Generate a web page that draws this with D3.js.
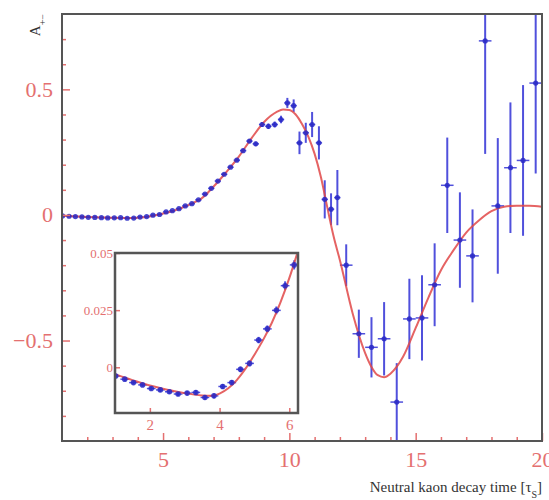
<!DOCTYPE html>
<html>
<head>
<meta charset="utf-8">
<script src="https://cdn.jsdelivr.net/npm/d3@7"></script>
<style>
  html, body { margin: 0; padding: 0; background: #fff; }
  svg { display: block; }
  svg text { font-family: "Liberation Serif", "Times New Roman", "DejaVu Serif", serif !important; }
</style>
</head>
<body>
<svg id="chart" width="549" height="500"></svg>
<script>
// measured asymmetry vs decay time (units of tau_S)
var decayTime = [
  1.02, 1.28, 1.53, 1.79, 2.04, 2.30, 2.56, 2.81, 3.07, 3.32, 3.58, 3.84, 4.09, 4.35, 4.60, 4.86, 5.12, 5.37, 5.63, 5.88, 6.14,
  6.40, 6.66, 6.91, 7.17, 7.42, 7.67, 7.92, 8.17, 8.42, 8.67, 8.92, 9.17, 9.42, 9.67, 9.92,
  10.17, 10.40, 10.65, 10.90, 11.17, 11.40, 11.65, 11.90,
  12.25, 12.75, 13.25, 13.75, 14.25, 14.75, 15.25, 15.75, 16.25, 16.75, 17.25, 17.75, 18.25, 18.75, 19.25, 19.75
];
var asymmetry = [
  -0.0038, -0.0052, -0.0067, -0.0077, -0.0093, -0.0099, -0.0107, -0.0117, -0.0113, -0.0110, -0.0132, -0.0125, -0.0084, -0.0067, -0.0009, 0.0017, 0.0119, 0.0168, 0.0249, 0.0357, 0.0448,
  0.060, 0.083, 0.106, 0.135, 0.162, 0.190, 0.218, 0.256, 0.294, 0.283, 0.360, 0.353, 0.360, 0.380, 0.446,
  0.435, 0.287, 0.327, 0.360, 0.287, 0.062, 0.023, 0.069,
  -0.200, -0.473, -0.527, -0.493, -0.745, -0.414, -0.410, -0.278, 0.118, -0.100, -0.163, 0.693, 0.036, 0.188, 0.217, 0.525
];
var asymErr = [
  0.0008, 0.0008, 0.0008, 0.0008, 0.0008, 0.0009, 0.0009, 0.0009, 0.0009, 0.001, 0.001, 0.001, 0.0011, 0.0011, 0.0012, 0.0013, 0.0014, 0.0015, 0.0017, 0.0019, 0.002,
  0.003, 0.003, 0.004, 0.004, 0.005, 0.005, 0.006, 0.007, 0.008, 0.009, 0.010, 0.011, 0.012, 0.015, 0.020,
  0.025, 0.045, 0.040, 0.050, 0.066, 0.076, 0.063, 0.110,
  0.083, 0.096, 0.120, 0.146, 0.155, 0.160, 0.170, 0.165, 0.190, 0.190, 0.185, 0.450, 0.270, 0.260, 0.300, 0.360
];
var binHalfWidth = [
  0.125, 0.125, 0.125, 0.125, 0.125, 0.125, 0.125, 0.125, 0.125, 0.125, 0.125, 0.125, 0.125, 0.125, 0.125, 0.125, 0.125, 0.125, 0.125, 0.125, 0.125,
  0.125, 0.125, 0.125, 0.125, 0.125, 0.125, 0.125, 0.125, 0.125, 0.125, 0.125, 0.125, 0.125, 0.125, 0.125,
  0.125, 0.125, 0.125, 0.125, 0.125, 0.125, 0.125, 0.125,
  0.25, 0.25, 0.25, 0.25, 0.25, 0.25, 0.25, 0.25, 0.25, 0.25, 0.25, 0.25, 0.25, 0.25, 0.25, 0.25
];

// fitted curve
var fitTime = [1, 1.5, 2, 2.5, 3, 3.5, 3.75, 4, 4.25, 4.5, 4.75, 5, 5.25, 5.5, 5.75, 6, 6.25, 6.5, 7, 7.5, 8, 8.5, 9, 9.5, 9.75, 10,
  10.25, 10.5, 10.75, 11, 11.25, 11.5, 11.75, 12, 12.5, 13, 13.25, 13.5, 13.75, 14, 14.5, 15, 15.5, 16, 16.5, 17, 17.5, 18, 18.5, 19, 19.5, 20];
var fitValue = [-0.003, -0.0056, -0.008, -0.0098, -0.0113, -0.0123, -0.0125, -0.0115, -0.0092, -0.0055, -0.0005, 0.0055, 0.012, 0.0195, 0.0285, 0.039, 0.051, 0.064, 0.113, 0.170, 0.232, 0.305, 0.370, 0.410, 0.420, 0.418,
  0.400, 0.362, 0.312, 0.243, 0.150, 0.031, -0.085, -0.180, -0.390, -0.550, -0.605, -0.638, -0.646, -0.632, -0.565, -0.450, -0.330, -0.220, -0.140, -0.070, -0.022, 0.015, 0.033, 0.037, 0.037, 0.033];

var xTicks = [5, 10, 15, 20];
var yTicks = [-0.5, 0, 0.5];
var insetXTicks = [2, 4, 6];
var insetYTicks = [0, 0.025, 0.05];

var tickColor = '#e47070';
var barColor = '#5050dc';
var dotColor = '#2828c4';
var fitColor = '#e04848';

var points = decayTime.map(function (t, i) {
  return { t: t, a: asymmetry[i], e: asymErr[i], w: binHalfWidth[i] };
});
var fit = fitTime.map(function (t, i) { return { t: t, a: fitValue[i] }; });

var svg = d3.select('#chart');

function drawPanel(g, x, y, data, fitData, clipId, dotR) {
  var x0 = x.range()[0], x1 = x.range()[1];
  var y0 = y.range()[1], y1 = y.range()[0];

  svg.append('clipPath').attr('id', clipId)
    .append('rect').attr('x', x0).attr('y', y0).attr('width', x1 - x0).attr('height', y1 - y0);

  var plot = g.append('g').attr('clip-path', 'url(#' + clipId + ')');

  plot.selectAll('line.ey').data(data).enter().append('line')
    .attr('class', 'ey')
    .attr('x1', function (d) { return x(d.t); }).attr('x2', function (d) { return x(d.t); })
    .attr('y1', function (d) { return y(d.a - d.e); }).attr('y2', function (d) { return y(d.a + d.e); })
    .attr('stroke', barColor).attr('stroke-width', 2);

  plot.selectAll('line.ex').data(data).enter().append('line')
    .attr('class', 'ex')
    .attr('x1', function (d) { return x(d.t - d.w); }).attr('x2', function (d) { return x(d.t + d.w); })
    .attr('y1', function (d) { return y(d.a); }).attr('y2', function (d) { return y(d.a); })
    .attr('stroke', barColor).attr('stroke-width', 1.5);

  var line = d3.line()
    .x(function (d) { return x(d.t); })
    .y(function (d) { return y(d.a); })
    .curve(d3.curveMonotoneX);

  plot.append('path').datum(fitData)
    .attr('d', line)
    .attr('fill', 'none')
    .attr('stroke', fitColor)
    .attr('stroke-opacity', 0.85)
    .attr('stroke-width', 2);

  plot.selectAll('circle').data(data).enter().append('circle')
    .attr('cx', function (d) { return x(d.t); })
    .attr('cy', function (d) { return y(d.a); })
    .attr('r', dotR)
    .attr('fill', dotColor)
    .attr('fill-opacity', 0.85);
}

function styleAxis(sel, fontSize) {
  sel.attr('font-family', null);
  sel.select('.domain').remove();
  sel.selectAll('line').attr('stroke', tickColor).attr('stroke-width', 1.5);
  sel.selectAll('text').attr('fill', tickColor).style('font-size', fontSize + 'px');
}

// ---- main panel
var x = d3.scaleLinear().domain([1, 20]).range([62, 542]);
var y = d3.scaleLinear().domain([-0.9, 0.8]).range([441, 14]);

var main = svg.append('g');
main.append('rect').attr('x', 62).attr('y', 14).attr('width', 480).attr('height', 427)
  .attr('fill', '#fff');

drawPanel(main, x, y, points, fit, 'clip-main', 2.6);

main.append('g').attr('transform', 'translate(0,441)')
  .call(d3.axisBottom(x).tickValues(d3.range(2, 20).filter(function (v) { return v % 5; }))
    .tickSize(-4).tickFormat(''))
  .call(styleAxis, 22);
main.append('g').attr('transform', 'translate(0,441)')
  .call(d3.axisBottom(x).tickValues(xTicks).tickSize(-8).tickPadding(10).tickFormat(d3.format('d')))
  .call(styleAxis, 22);

main.append('g').attr('transform', 'translate(62,0)')
  .call(d3.axisLeft(y).tickValues(d3.range(-8, 8).filter(function (v) { return v % 5; }).map(function (v) { return v / 10; }))
    .tickSize(-4).tickFormat(''))
  .call(styleAxis, 22);
main.append('g').attr('transform', 'translate(62,0)')
  .call(d3.axisLeft(y).tickValues(yTicks).tickSize(-8).tickPadding(9).tickFormat(d3.format('')))
  .call(styleAxis, 22);

main.append('rect').attr('x', 62).attr('y', 14).attr('width', 480).attr('height', 427)
  .attr('fill', 'none').attr('stroke', '#555').attr('stroke-width', 2);

// axis titles
var xTitle = svg.append('text')
  .attr('x', 542).attr('y', 492)
  .attr('text-anchor', 'end')
  .attr('fill', '#333')
  .style('font-size', '15px');
xTitle.append('tspan').text('Neutral kaon decay time [τ');
xTitle.append('tspan').attr('baseline-shift', 'sub').style('font-size', '10px').text('S');
xTitle.append('tspan').text(']');

var yTitle = svg.append('text')
  .attr('transform', 'translate(40,14) rotate(-90)')
  .attr('text-anchor', 'end')
  .attr('fill', '#333')
  .style('font-size', '15px');
yTitle.append('tspan').text('A');
yTitle.append('tspan').attr('baseline-shift', 'sub').style('font-size', '10px').text('+−');

// ---- inset, zoom on early decay times
var xIn = d3.scaleLinear().domain([1, 6.25]).range([115, 298]);
var yIn = d3.scaleLinear().domain([-0.02, 0.05]).range([413, 253]);

var inset = svg.append('g');
inset.append('rect').attr('x', 115).attr('y', 253).attr('width', 183).attr('height', 160)
  .attr('fill', '#fff');

drawPanel(inset, xIn, yIn, points.filter(function (d) { return d.t < 6.5; }),
  fit.filter(function (d) { return d.t <= 7; }), 'clip-inset', 2.8);

inset.append('g').attr('transform', 'translate(0,413)')
  .call(d3.axisBottom(xIn).tickValues(insetXTicks).tickSize(-5).tickPadding(6).tickFormat(d3.format('d')))
  .call(styleAxis, 15);
inset.append('g').attr('transform', 'translate(115,0)')
  .call(d3.axisLeft(yIn).tickValues(insetYTicks).tickSize(-5).tickPadding(2)
    .tickFormat(function (d) { return d === 0 ? '0' : String(d); }))
  .call(styleAxis, 13);

inset.append('rect').attr('x', 115).attr('y', 253).attr('width', 183).attr('height', 160)
  .attr('fill', 'none').attr('stroke', '#555').attr('stroke-width', 2.5);
</script>
</body>
</html>
